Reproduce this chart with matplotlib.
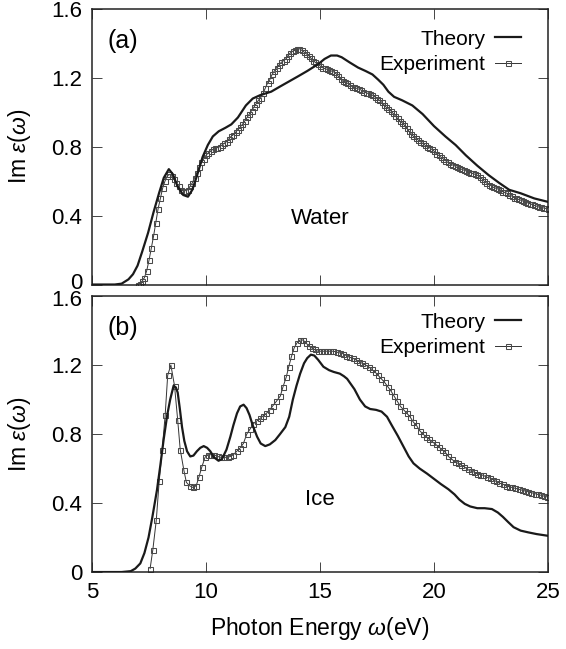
import matplotlib
matplotlib.use('Agg')
import matplotlib.pyplot as plt
from matplotlib.ticker import FixedLocator, FuncFormatter
from matplotlib.transforms import ScaledTranslation

# ---------------- data ----------------
water_theory_x = [5.0, 6.0, 6.3, 6.6, 6.8, 7.0, 7.2, 7.46, 7.7, 7.94, 8.15, 8.37, 8.55, 8.75, 9.0,
                  9.21, 9.4, 9.6, 9.85, 10.08, 10.3, 10.56, 10.85, 11.11, 11.4, 11.75, 12.05,
                  12.38, 12.86, 13.25, 13.65, 14.05, 14.44, 14.92, 15.2, 15.48, 15.75, 15.95,
                  16.3, 16.67, 17.0, 17.3, 17.55, 17.78, 18.0, 18.25, 18.6, 19.05, 19.5, 20.0,
                  20.5, 20.95, 21.4, 21.9, 22.4, 22.86, 23.3, 23.8, 24.4, 25.0]
water_theory_y = [0.0, 0.0, 0.005, 0.03, 0.06, 0.11, 0.19, 0.30, 0.42, 0.53, 0.62, 0.67, 0.64,
                  0.57, 0.52, 0.51, 0.55, 0.63, 0.74, 0.81, 0.86, 0.89, 0.91, 0.93, 0.97, 1.04,
                  1.08, 1.10, 1.12, 1.15, 1.18, 1.21, 1.24, 1.28, 1.31, 1.33, 1.33, 1.32, 1.29,
                  1.26, 1.24, 1.22, 1.19, 1.16, 1.12, 1.09, 1.07, 1.04, 0.99, 0.92, 0.86, 0.81,
                  0.75, 0.69, 0.635, 0.59, 0.55, 0.53, 0.50, 0.48]

water_exp_x = [7.0, 7.1, 7.2, 7.3, 7.4, 7.5, 7.6, 7.7, 7.8, 7.9,
               8.0, 8.1, 8.2, 8.3, 8.4, 8.5, 8.6, 8.7, 8.8, 8.9,
               9.0, 9.1, 9.2, 9.3, 9.4, 9.5, 9.6, 9.7, 9.8, 9.9,
               10.0, 10.1, 10.2, 10.3, 10.4, 10.5, 10.6, 10.7, 10.8, 10.9,
               11.0, 11.1, 11.2, 11.3, 11.4, 11.5, 11.6, 11.7, 11.8, 11.9,
               12.0, 12.1, 12.2, 12.3, 12.4, 12.5, 12.6, 12.7, 12.8, 12.9,
               13.0, 13.1, 13.2, 13.3, 13.4, 13.5, 13.6, 13.7, 13.8, 13.9,
               14.0, 14.1, 14.2, 14.3, 14.4, 14.5, 14.6, 14.7, 14.8, 14.9,
               15.0, 15.1, 15.2, 15.3, 15.4, 15.5, 15.6, 15.7, 15.8, 15.9,
               16.0, 16.1, 16.2, 16.3, 16.4, 16.5, 16.6, 16.7, 16.8, 16.9,
               17.0, 17.1, 17.2, 17.3, 17.4, 17.5, 17.6, 17.7, 17.8, 17.9,
               18.0, 18.1, 18.2, 18.3, 18.4, 18.5, 18.6, 18.7, 18.8, 18.9,
               19.0, 19.1, 19.2, 19.3, 19.4, 19.5, 19.6, 19.7, 19.8, 19.9,
               20.0, 20.1, 20.2, 20.3, 20.4, 20.5, 20.6, 20.7, 20.8, 20.9,
               21.0, 21.1, 21.2, 21.3, 21.4, 21.5, 21.6, 21.7, 21.8, 21.9,
               22.0, 22.1, 22.2, 22.3, 22.4, 22.5, 22.6, 22.7, 22.8, 22.9,
               23.0, 23.1, 23.2, 23.3, 23.4, 23.5, 23.6, 23.7, 23.8, 23.9,
               24.0, 24.1, 24.2, 24.3, 24.4, 24.5, 24.6, 24.7, 24.8, 24.9, 25.0]
water_exp_y = [0.0, 0.005, 0.02, 0.04, 0.08, 0.14, 0.21, 0.28, 0.36, 0.44,
               0.50, 0.56, 0.60, 0.63, 0.64, 0.63, 0.61, 0.59, 0.57, 0.55,
               0.545, 0.545, 0.55, 0.57, 0.59, 0.62, 0.65, 0.68, 0.71, 0.73,
               0.75, 0.765, 0.775, 0.785, 0.79, 0.795, 0.80, 0.81, 0.82, 0.83,
               0.845, 0.86, 0.87, 0.885, 0.90, 0.915, 0.93, 0.95, 0.97, 0.99,
               1.01, 1.03, 1.05, 1.07, 1.085, 1.11, 1.14, 1.17, 1.19, 1.22,
               1.24, 1.26, 1.275, 1.29, 1.30, 1.31, 1.33, 1.345, 1.355, 1.36,
               1.365, 1.37, 1.36, 1.35, 1.34, 1.33, 1.315, 1.30, 1.29, 1.28,
               1.27, 1.26, 1.255, 1.25, 1.245, 1.24, 1.235, 1.225, 1.21, 1.195,
               1.18, 1.175, 1.17, 1.16, 1.15, 1.145, 1.14, 1.135, 1.13, 1.12,
               1.115, 1.11, 1.105, 1.10, 1.09, 1.08, 1.07, 1.06, 1.045, 1.03,
               1.02, 1.01, 0.995, 0.98, 0.965, 0.95, 0.94, 0.925, 0.91, 0.89,
               0.875, 0.86, 0.85, 0.84, 0.83, 0.82, 0.81, 0.80, 0.795, 0.785,
               0.775, 0.76, 0.75, 0.74, 0.73, 0.72, 0.71, 0.70, 0.695, 0.69,
               0.68, 0.675, 0.67, 0.665, 0.66, 0.655, 0.65, 0.645, 0.64, 0.635,
               0.625, 0.615, 0.60, 0.59, 0.58, 0.575, 0.565, 0.56, 0.555, 0.55,
               0.54, 0.535, 0.53, 0.52, 0.515, 0.505, 0.50, 0.495, 0.49, 0.485,
               0.48, 0.475, 0.47, 0.465, 0.46, 0.455, 0.45, 0.448, 0.445, 0.442, 0.44]

ice_theory_x = [5.0, 6.3, 6.7, 6.9, 7.12, 7.3, 7.48, 7.65, 7.85, 8.0, 8.14, 8.3, 8.43, 8.58,
                8.68, 8.76, 8.85, 8.95, 9.05, 9.17, 9.31, 9.45, 9.6, 9.75, 9.9, 10.05, 10.19,
                10.35, 10.55, 10.7, 10.9, 11.07, 11.2, 11.36, 11.5, 11.65, 11.78, 11.91,
                12.05, 12.24, 12.4, 12.6, 12.8, 13.04, 13.25, 13.48, 13.65, 13.81, 13.97,
                14.13, 14.3, 14.44, 14.6, 14.75, 14.92, 15.15, 15.4, 15.6, 15.87, 16.05,
                16.19, 16.35, 16.51, 16.75, 16.98, 17.2, 17.46, 17.7, 17.94, 18.15, 18.41,
                18.65, 18.89, 19.1, 19.37, 19.7, 20.0, 20.3, 20.63, 20.9, 21.11, 21.35,
                21.59, 21.9, 22.22, 22.54, 22.8, 23.02, 23.25, 23.49, 23.8, 24.13, 24.5, 25.0]
ice_theory_y = [0.0, 0.0, 0.005, 0.02, 0.05, 0.11, 0.20, 0.32, 0.475, 0.62, 0.765, 0.91, 1.0,
                1.08, 1.07, 1.04, 0.95, 0.84, 0.76, 0.70, 0.67, 0.675, 0.70, 0.72, 0.73, 0.72,
                0.70, 0.665, 0.645, 0.655, 0.71, 0.785, 0.85, 0.92, 0.96, 0.97, 0.95, 0.91,
                0.85, 0.785, 0.745, 0.73, 0.74, 0.765, 0.80, 0.84, 0.90, 1.0, 1.08, 1.15,
                1.21, 1.24, 1.26, 1.255, 1.23, 1.19, 1.17, 1.16, 1.15, 1.135, 1.12, 1.09,
                1.06, 1.0, 0.96, 0.945, 0.94, 0.93, 0.90, 0.85, 0.79, 0.73, 0.67, 0.63, 0.60,
                0.57, 0.54, 0.51, 0.48, 0.45, 0.42, 0.395, 0.38, 0.37, 0.37, 0.365, 0.345,
                0.32, 0.29, 0.26, 0.24, 0.23, 0.22, 0.21]

ice_exp_x = [7.55, 7.67, 7.82, 7.95, 8.08, 8.21, 8.32, 8.46, 8.62, 8.76, 8.87, 9.03, 9.14, 9.28,
             9.43, 9.57, 9.69, 9.82, 9.96, 10.07, 10.22, 10.36, 10.51, 10.65, 10.8, 10.95,
             11.07, 11.2, 11.35, 11.5, 11.64, 11.79, 11.94, 12.08, 12.22, 12.37, 12.5, 12.65,
             12.8, 12.94, 13.09, 13.26, 13.37, 13.52, 13.63, 13.75, 13.87, 14.0, 14.12, 14.25,
             14.38, 14.5, 14.63, 14.76, 14.9, 15.03, 15.17, 15.31, 15.45, 15.59, 15.73, 15.87,
             16.01, 16.15, 16.29, 16.43, 16.57, 16.71, 16.85, 16.99, 17.13, 17.27, 17.41,
             17.55, 17.69, 17.83, 17.97, 18.11, 18.25, 18.39, 18.53, 18.67, 18.81, 18.95,
             19.09, 19.23, 19.37, 19.51, 19.65, 19.79, 19.93, 20.07, 20.21, 20.35, 20.49,
             20.63, 20.77, 20.91, 21.05, 21.19, 21.33, 21.47, 21.61, 21.75, 21.89, 22.03,
             22.17, 22.31, 22.45, 22.59, 22.73, 22.87, 23.01, 23.15, 23.29, 23.43, 23.57,
             23.71, 23.85, 23.99, 24.13, 24.27, 24.41, 24.55, 24.69, 24.83, 24.97]
ice_exp_y = [0.02, 0.13, 0.30, 0.53, 0.71, 0.91, 1.14, 1.20, 1.08, 0.88, 0.71, 0.59, 0.52, 0.50,
             0.49, 0.50, 0.55, 0.61, 0.665, 0.68, 0.68, 0.68, 0.67, 0.665, 0.665, 0.665,
             0.67, 0.68, 0.70, 0.72, 0.745, 0.80, 0.83, 0.86, 0.875, 0.89, 0.905, 0.92,
             0.94, 0.965, 0.99, 1.02, 1.07, 1.13, 1.19, 1.25, 1.30, 1.33, 1.345, 1.345,
             1.33, 1.31, 1.30, 1.29, 1.28, 1.28, 1.28, 1.28, 1.28, 1.28, 1.275, 1.27,
             1.265, 1.255, 1.245, 1.24, 1.23, 1.22, 1.21, 1.20, 1.19, 1.175, 1.16,
             1.14, 1.12, 1.10, 1.075, 1.05, 1.02, 0.99, 0.96, 0.94, 0.92, 0.90,
             0.87, 0.85, 0.82, 0.80, 0.785, 0.77, 0.755, 0.74, 0.725, 0.71, 0.695,
             0.67, 0.655, 0.64, 0.63, 0.62, 0.61, 0.595, 0.585, 0.58, 0.57, 0.565,
             0.56, 0.55, 0.545, 0.535, 0.525, 0.515, 0.51, 0.50, 0.495, 0.49, 0.485,
             0.48, 0.475, 0.47, 0.465, 0.46, 0.455, 0.45, 0.445, 0.44, 0.435]

x_ticks = [5, 10, 15, 20, 25]
y_ticks = [0, 0.4, 0.8, 1.2, 1.6]
panel_labels = ['(a)', '(b)']
material_labels = ['Water', 'Ice']
series_labels = ['Theory', 'Experiment']

# ---------------- style ----------------
plt.rcParams['font.family'] = ['Liberation Sans', 'DejaVu Sans']
plt.rcParams['mathtext.fontset'] = 'custom'
plt.rcParams['mathtext.rm'] = 'Liberation Sans'
plt.rcParams['mathtext.it'] = 'Liberation Sans:italic'

FS = 16
fig = plt.figure(figsize=(5.66, 6.49), dpi=100)
ax1 = fig.add_axes([0.1625, 0.5616, 0.8057, 0.4245])
ax2 = fig.add_axes([0.1625, 0.1186, 0.8057, 0.4253])

datasets = [
    (ax1, water_theory_x, water_theory_y, water_exp_x, water_exp_y, 0.385, 0.925),
    (ax2, ice_theory_x, ice_theory_y, ice_exp_x, ice_exp_y, 0.42, 0.94),
]

ylab_fmt = FuncFormatter(lambda v, p: '0' if abs(v) < 1e-9 else f'{v:.1f}')

for i, (ax, tx, ty, ex, ey, mat_y, leg_y) in enumerate(datasets):
    ax.plot(tx, ty, color='#1a1a1a', lw=1.6, label=series_labels[0], zorder=3)
    ax.plot(ex, ey, color='#333333', lw=0.7, marker='s', ms=3.6, mfc='none',
            mec='#4a4a4a', mew=0.75, label=series_labels[1], zorder=2)
    ax.set_xlim(5, 25)
    ax.set_ylim(0, 1.6)
    ax.xaxis.set_major_locator(FixedLocator(x_ticks))
    ax.yaxis.set_major_locator(FixedLocator(y_ticks))
    ax.yaxis.set_major_formatter(ylab_fmt)
    ax.tick_params(direction='in', length=7, width=0.7, top=True, right=True,
                   labelsize=FS, pad=7, color='#444444')
    for s in ax.spines.values():
        s.set_linewidth(1.1)
        s.set_color('#222222')
    ax.set_ylabel(r'Im $\varepsilon(\omega)$', fontsize=16.5)
    ax.yaxis.set_label_coords(-0.13, 0.5)
    ax.text(0.035, 0.885, panel_labels[i], transform=ax.transAxes, fontsize=18,
            va='center', ha='left')
    ax.text(15, mat_y, material_labels[i], fontsize=16, ha='center', va='center')
    ax.legend(loc='upper right', bbox_to_anchor=(0.94, leg_y), frameon=False,
              markerfirst=False, numpoints=1, fontsize=15, handlelength=1.25,
              handletextpad=0.45, labelspacing=0.3, borderpad=0, borderaxespad=0)

ax1.tick_params(labelbottom=False)
ax2.set_xlabel(r'Photon Energy $\omega$(eV)', fontsize=16.5, labelpad=9)

# nudge the two tick labels that meet in the gap between the panels
fig.canvas.draw()
lbl0 = ax1.yaxis.get_major_ticks()[0].label1
lbl0.set_transform(lbl0.get_transform() + ScaledTranslation(0, 4 / 100, fig.dpi_scale_trans))
lbl1 = ax2.yaxis.get_major_ticks()[-1].label1
lbl1.set_transform(lbl1.get_transform() + ScaledTranslation(0, -2 / 100, fig.dpi_scale_trans))

fig.savefig('out.png', dpi=100)
